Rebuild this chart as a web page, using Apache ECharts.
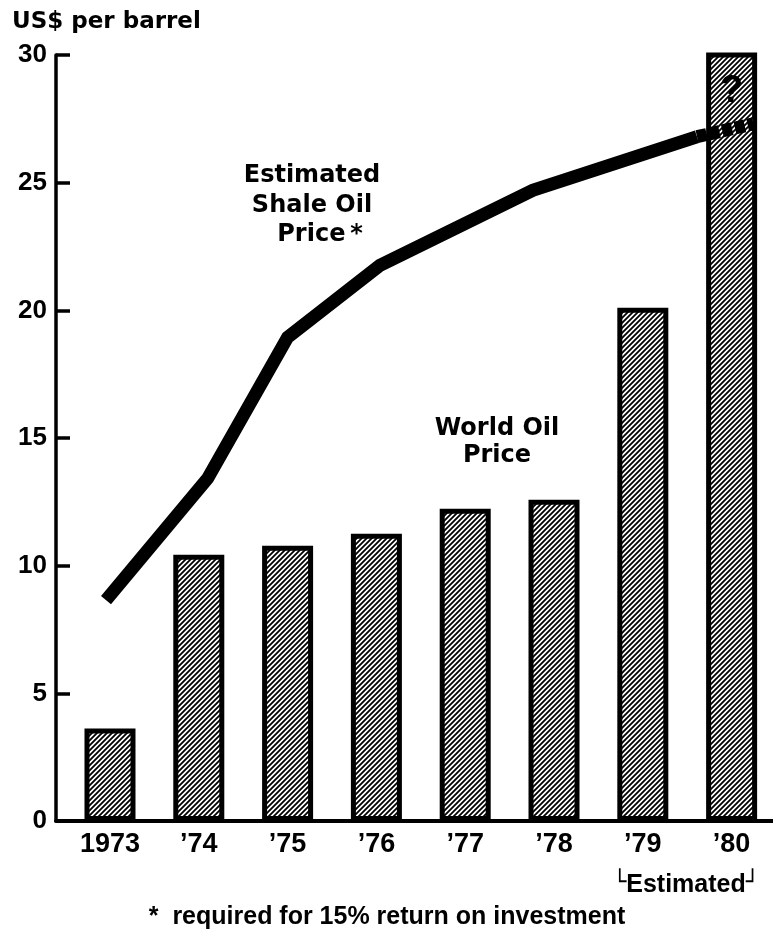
<!DOCTYPE html>
<html>
<head>
<meta charset="utf-8">
<script src="https://cdn.jsdelivr.net/npm/echarts@6/dist/echarts.min.js"></script>
<style>
html,body{margin:0;padding:0;background:#fff;}
#chart{width:773px;height:946px;}
</style>
</head>
<body>
<div id="chart"></div>
<script>
// ---- data ----
const years = ['1973', '\u201974', '\u201975', '\u201976', '\u201977', '\u201978', '\u201979', '\u201980'];
const yearIndex = [0, 1, 2, 3, 4, 5, 6, 7];
const worldOilPrice = [3.62, 10.43, 10.78, 11.25, 12.23, 12.58, 20.1, 30.1];
// shale line vertices: position along the year axis (index units) and price
const shaleX = [-0.045, 1.10, 2.0, 3.04, 4.76, 6.61];
const shaleY = [8.65, 13.42, 18.94, 21.76, 24.7, 26.8];
const shaleEstX = [6.61, 7.24];
const shaleEstY = [26.8, 27.3];
const yTicks = [0, 5, 10, 15, 20, 25, 30];

function hatch() {
  const c = document.createElement('canvas');
  c.width = 5; c.height = 5;
  const g = c.getContext('2d');
  g.fillStyle = '#fff'; g.fillRect(0, 0, 5, 5);
  g.strokeStyle = '#000'; g.lineWidth = 1.8;
  g.beginPath();
  g.moveTo(-1, 6); g.lineTo(6, -1);
  g.moveTo(-1, 1); g.lineTo(1, -1);
  g.moveTo(4, 6); g.lineTo(6, 4);
  g.stroke();
  return c;
}

const NUM_FONT = '"Liberation Sans", Arial, sans-serif';
const TXT_FONT = '"DejaVu Sans", sans-serif';

const chart = echarts.init(document.getElementById('chart'), null, {renderer: 'canvas'});
const barData = yearIndex.map((x, i) => [x, worldOilPrice[i]]);
const shaleData = shaleX.map((x, i) => [x, shaleY[i]]);
const shaleEst = shaleEstX.map((x, i) => [x, shaleEstY[i]]);

chart.setOption({
  backgroundColor: '#fff',
  animation: false,
  grid: {left: 56, right: 0, top: 55, bottom: 125},
  xAxis: {
    type: 'value', min: -0.608, max: 7.466,
    axisLine: {show: true, onZero: true, lineStyle: {color: '#000', width: 4}},
    axisTick: {show: false},
    splitLine: {show: false},
    axisLabel: {
      customValues: yearIndex,
      formatter: v => years[Math.round(v)],
      color: '#000', fontFamily: NUM_FONT, fontWeight: 'bold', fontSize: 27, margin: 10
    }
  },
  yAxis: {
    type: 'value', min: 0, max: 30, interval: 5,
    axisLine: {show: true, onZero: false, lineStyle: {color: '#000', width: 3.5}},
    axisTick: {show: true, inside: true, length: 14, lineStyle: {color: '#000', width: 3.5}},
    splitLine: {show: false},
    axisLabel: {color: '#000', fontFamily: NUM_FONT, fontWeight: 'bold', fontSize: 26, margin: 9}
  },
  series: [
    {
      type: 'bar', data: barData, barWidth: 51, z: 2,
      itemStyle: {color: {image: hatch(), repeat: 'repeat'}, borderColor: '#000', borderWidth: 5},
      label: {
        show: true, position: 'insideTop', distance: 20,
        formatter: p => (p.dataIndex === 7 ? '?' : ''),
        color: '#000', fontFamily: NUM_FONT, fontWeight: 'bold', fontSize: 38
      }
    },
    {
      type: 'line', data: shaleData, symbol: 'none', z: 5,
      lineStyle: {color: '#000', width: 13, cap: 'butt', join: 'miter'}
    },
    {
      type: 'line', data: shaleEst, symbol: 'none', z: 5,
      lineStyle: {color: '#000', width: 13, type: [10, 3], cap: 'butt'}
    }
  ],
  graphic: [
    {type: 'text', left: 12, top: 11, style: {text: 'US$ per barrel', font: 'bold 23px ' + TXT_FONT, fill: '#000'}},
    {type: 'text', x: 312, y: 176, style: {text: 'Estimated', font: 'bold 24px ' + TXT_FONT, fill: '#000', align: 'center', verticalAlign: 'middle'}},
    {type: 'text', x: 312, y: 206, style: {text: 'Shale Oil', font: 'bold 24px ' + TXT_FONT, fill: '#000', align: 'center', verticalAlign: 'middle'}},
    {type: 'text', x: 320, y: 235, style: {text: 'Price\u2009*', font: 'bold 24px ' + TXT_FONT, fill: '#000', align: 'center', verticalAlign: 'middle'}},
    {type: 'text', x: 497, y: 429, style: {text: 'World Oil', font: 'bold 24px ' + TXT_FONT, fill: '#000', align: 'center', verticalAlign: 'middle'}},
    {type: 'text', x: 497, y: 456, style: {text: 'Price', font: 'bold 24px ' + TXT_FONT, fill: '#000', align: 'center', verticalAlign: 'middle'}},
    {type: 'text', x: 686, y: 885, style: {
      text: '{br|\u2514}Estimated{br|\u2518}',
      font: 'bold 25px ' + NUM_FONT, fill: '#000', align: 'center', verticalAlign: 'middle',
      rich: {br: {fontFamily: 'DejaVu Sans', fontSize: 22, fontWeight: 'bold', fill: '#000', verticalAlign: 'top'}}
    }},
    {type: 'text', x: 387, y: 917, style: {text: '*  required for 15% return on investment', font: 'bold 25px ' + NUM_FONT, fill: '#000', align: 'center', verticalAlign: 'middle'}}
  ]
});
</script>
</body>
</html>
